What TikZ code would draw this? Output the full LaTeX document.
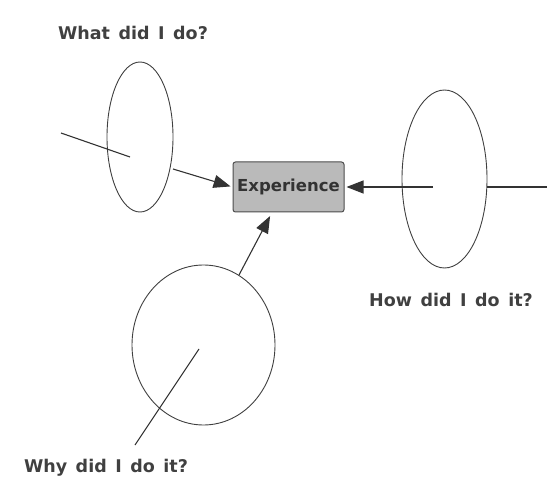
\documentclass[tikz,border=0pt]{standalone}
\usepackage{fontspec}
\setsansfont{DejaVu Sans}[WordSpace=1.4]
\usetikzlibrary{arrows.meta,shapes.geometric}
\tikzset{
  ring/.style={ellipse, draw=black!75, line width=0.9pt, inner sep=0pt},
  question/.style={font=\sffamily\bfseries\fontsize{17.5}{20}\selectfont, text=black!75},
  ln/.style={draw=black!80, line width=1.1pt},
  arr/.style={ln, -{Triangle[length=17pt,width=13pt]}, shorten >=2pt}
}
\begin{document}
\begin{tikzpicture}[x=1pt,y=-1pt]
				\useasboundingbox (0,0) rectangle (547,484);
				% the three circles
				\node [ring, minimum width=66pt, minimum height=150pt] (what) at (140,137) {};
				\node [ring, minimum width=85pt, minimum height=178pt] (how) at (444.5,179) {};
				\node [ring, minimum width=143pt, minimum height=160pt] (why) at (203.5,345) {};
				% the box
				\node [draw=black!70, fill=black!27, line width=1pt, rounded corners=2.5pt,
				       minimum width=111pt, minimum height=50pt,
				       font=\sffamily\bfseries\fontsize{16.5}{18}\selectfont, text=black!80] (exp) at (288.5,187) {Experience};
				% line ends
				\coordinate (whatA) at (61,133);
				\coordinate (whatB) at (130,157);
				\coordinate (whatout) at (173,169);
				\coordinate (howin) at (433,187);
				\coordinate (howedge) at (487,187);
				\coordinate (howout) at (547,187);
				\coordinate (whyA) at (199,349);
				\coordinate (whyB) at (135,445);
				\coordinate (whyout) at (239,275);
				\draw [ln] (whatA) -- (whatB);
				\draw [ln] (howedge) -- (howout);
				\draw [ln] (whyA) -- (whyB);
				\draw [arr] (whatout) -- (exp.west);
				\draw [arr] (howin) -- (exp.east);
				\draw [arr, shorten >=4pt] (whyout) -- (exp.-123);
				% labels
				\node [question] (whatlbl) at (133,33) {What did I do?};
				\node [question] (howlbl) at (451,300) {How did I do it?};
				\node [question] (whylbl) at (106,468) {Why did I do it?};
			\end{tikzpicture}
\end{document}
